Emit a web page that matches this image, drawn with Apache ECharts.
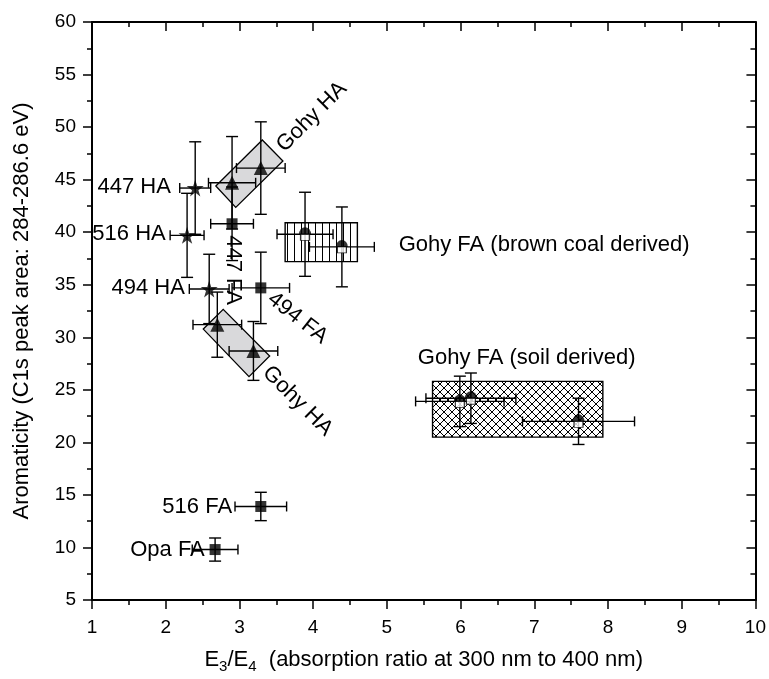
<!DOCTYPE html>
<html>
<head>
<meta charset="utf-8">
<title>Aromaticity vs E3/E4</title>
<script src="https://cdn.jsdelivr.net/npm/echarts@6/dist/echarts.min.js"></script>
<style>
html, body { margin: 0; padding: 0; background: #fff; }
#main { width: 769px; height: 679px; }
</style>
</head>
<body>
<div id="main"></div>
<script>
// axis ticks
var xTickValues = [1, 2, 3, 4, 5, 6, 7, 8, 9, 10];
var yTickValues = [5, 10, 15, 20, 25, 30, 35, 40, 45, 50, 55, 60];

// HA samples (stars): [E3/E4, aromaticity]
var haNames = ['447 HA', '516 HA', '494 HA'];
var haPoints = [[2.40, 44.2], [2.29, 39.7], [2.59, 34.6]];
var haErrX = [0.21, 0.23, 0.27];
var haErrY = [4.4, 4.0, 3.3];

// Gohy HA (triangles)
var gohyHaPoints = [[2.90, 44.7], [3.29, 46.1], [2.70, 31.2], [3.19, 28.7]];
var gohyHaErrX = [0.32, 0.33, 0.33, 0.33];
var gohyHaErrY = [4.4, 4.4, 3.1, 2.8];

// FA samples (squares)
var faNames = ['447 FA', '494 FA', '516 FA', 'Opa FA'];
var faPoints = [[2.90, 40.8], [3.29, 34.7], [3.29, 13.9], [2.67, 9.8]];
var faErrX = [0.29, 0.39, 0.35, 0.31];
var faErrY = [3.5, 3.4, 1.35, 1.1];

// Gohy FA, brown coal derived
var coalPoints = [[3.89, 39.8], [4.39, 38.6]];
var coalErrX = [0.38, 0.44];
var coalErrY = [4.0, 3.8];

// Gohy FA, soil derived
var soilPoints = [[5.99, 23.9], [6.14, 24.2], [7.60, 22.0]];
var soilErrX = [0.60, 0.61, 0.76];
var soilErrY = [2.4, 2.4, 2.2];

// group boxes: [xmin, ymin, xmax, ymax]
var coalBox = [3.62, 37.2, 4.60, 40.9];
var soilBox = [5.62, 20.5, 7.93, 25.8];
// tilted boxes round the Gohy HA pairs (corner points)
var gohyHaUpperBox = [[2.68, 44.39], [3.31, 48.77], [3.59, 46.77], [2.95, 42.36]];
var gohyHaLowerBox = [[2.51, 30.78], [2.78, 32.66], [3.41, 28.22], [3.13, 26.25]];

// annotations: [text, x, y, rotate(deg), align]
var noteLabels = [
	['447 HA', 2.07, 44.3, 0, 'right'],
	['516 HA', 2.00, 39.8, 0, 'right'],
	['494 HA', 2.26, 34.66, 0, 'right'],
	['516 FA', 2.90, 13.85, 0, 'right'],
	['Opa FA', 2.53, 9.76, 0, 'right'],
	['Gohy FA (brown coal derived)', 5.16, 38.78, 0, 'left'],
	['Gohy FA (soil derived)', 5.42, 28.0, 0, 'left'],
	['Gohy HA', 3.98, 50.96, 45, 'center'],
	['447 FA', 2.91, 36.4, -90, 'center'],
	['494 FA', 3.79, 31.83, -38, 'center'],
	['Gohy HA', 3.79, 23.93, -45, 'center']
];

var FONT = '"Liberation Sans", Arial, Helvetica, sans-serif';

function makeHatch(kind){
	var c = document.createElement('canvas');
	var s = kind == 'vertical' ? 7 : 8;
	c.width = s; c.height = s;
	var ctx = c.getContext('2d');
	ctx.fillStyle = '#fff';
	ctx.fillRect(0, 0, s, s);
	ctx.strokeStyle = '#000';
	ctx.lineWidth = 1;
	ctx.beginPath();
	if(kind == 'vertical'){
		ctx.moveTo(0.5, 0); ctx.lineTo(0.5, s);
	}else{
		ctx.moveTo(0, 0); ctx.lineTo(s, s);
		ctx.moveTo(s, 0); ctx.lineTo(0, s);
	}
	ctx.stroke();
	return c;
}

function withErr(points, ex, ey){
	var out = [];
	for(var i = 0; i < points.length; i++){
		out.push([points[i][0], points[i][1], ex[i], ey[i]]);
	}
	return out;
}

function renderErrorBar(params, api){
	var x = api.value(0), y = api.value(1), ex = api.value(2), ey = api.value(3);
	var c = api.coord([x, y]);
	var l = api.coord([x - ex, y])[0], r = api.coord([x + ex, y])[0];
	var t = api.coord([x, y + ey])[1], b = api.coord([x, y - ey])[1];
	var cap = 5;
	var st = {stroke: '#000', lineWidth: 1.4};
	return {
		type: 'group',
		children: [
			{type: 'line', shape: {x1: l, y1: c[1], x2: r, y2: c[1]}, style: st},
			{type: 'line', shape: {x1: l, y1: c[1] - cap, x2: l, y2: c[1] + cap}, style: st},
			{type: 'line', shape: {x1: r, y1: c[1] - cap, x2: r, y2: c[1] + cap}, style: st},
			{type: 'line', shape: {x1: c[0], y1: t, x2: c[0], y2: b}, style: st},
			{type: 'line', shape: {x1: c[0] - 6, y1: t, x2: c[0] + 6, y2: t}, style: st},
			{type: 'line', shape: {x1: c[0] - 6, y1: b, x2: c[0] + 6, y2: b}, style: st}
		]
	};
}

var hatchFill = {
	vertical: {image: makeHatch('vertical'), repeat: 'repeat'},
	cross: {image: makeHatch('cross'), repeat: 'repeat'}
};

function renderRectBox(params, api){
	var p0 = api.coord([api.value(0), api.value(3)]);
	var p1 = api.coord([api.value(2), api.value(1)]);
	var kind = params.dataIndex == 0 ? 'vertical' : 'cross';
	return {
		type: 'rect',
		shape: {x: p0[0], y: p0[1], width: p1[0] - p0[0], height: p1[1] - p0[1]},
		style: {fill: hatchFill[kind], stroke: '#000', lineWidth: 1.4}
	};
}

function renderTiltBox(params, api){
	var pts = [];
	for(var i = 0; i < 4; i++){
		pts.push(api.coord([api.value(i * 2), api.value(i * 2 + 1)]));
	}
	return {
		type: 'polygon',
		shape: {points: pts},
		style: {fill: '#d9d9db', stroke: '#000', lineWidth: 1.3}
	};
}

function renderNote(params, api){
	var n = noteLabels[params.dataIndex];
	var p = api.coord([api.value(0), api.value(1)]);
	return {
		type: 'text',
		x: p[0],
		y: p[1],
		rotation: n[3] * Math.PI / 180,
		style: {
			text: n[0],
			fill: '#000',
			font: '22px ' + FONT,
			align: n[4],
			textAlign: n[4],
			verticalAlign: 'middle',
			textVerticalAlign: 'middle'
		}
	};
}

function flatBox(box){
	var out = [];
	for(var i = 0; i < box.length; i++){ out.push(box[i][0], box[i][1]); }
	return out;
}

function initAromaticityOption(){
	var axisLine = {show: true, lineStyle: {color: '#000', width: 2}};
	var allErr = []
		.concat(withErr(haPoints, haErrX, haErrY))
		.concat(withErr(gohyHaPoints, gohyHaErrX, gohyHaErrY))
		.concat(withErr(faPoints, faErrX, faErrY))
		.concat(withErr(coalPoints, coalErrX, coalErrY))
		.concat(withErr(soilPoints, soilErrX, soilErrY));
	var notes = [];
	for(var i = 0; i < noteLabels.length; i++){ notes.push([noteLabels[i][1], noteLabels[i][2]]); }

	return {
		animation: false,
		backgroundColor: '#fff',
		textStyle: {fontFamily: FONT},
		grid: {left: 92, right: 13, top: 22, bottom: 79},
		xAxis: [{
			type: 'value',
			min: xTickValues[0],
			max: xTickValues[xTickValues.length - 1],
			interval: 1,
			name: '{n|E}{s|3}{n|/E}{s|4}{n|  (absorption ratio at 300 nm to 400 nm)}',
			nameLocation: 'middle',
			nameGap: 46,
			nameTextStyle: {
				rich: {
					n: {fontSize: 22, fontFamily: FONT, color: '#000'},
					s: {fontSize: 15, fontFamily: FONT, color: '#000', padding: [13, 0, 0, 0]}
				}
			},
			axisLine: axisLine,
			axisTick: {show: true, length: 9, lineStyle: {color: '#000', width: 1.5}},
			minorTick: {show: true, splitNumber: 2, length: 5, lineStyle: {color: '#000', width: 1.5}},
			axisLabel: {fontSize: 19, color: '#000', margin: 18, fontFamily: FONT},
			splitLine: {show: false}
		}, {
			type: 'value',
			position: 'top',
			min: xTickValues[0],
			max: xTickValues[xTickValues.length - 1],
			interval: 1,
			axisLine: axisLine,
			axisTick: {show: true, inside: true, length: 9, lineStyle: {color: '#000', width: 1.5}},
			minorTick: {show: true, splitNumber: 2, length: 5, lineStyle: {color: '#000', width: 1.5}},
			axisLabel: {show: false},
			splitLine: {show: false}
		}],
		yAxis: [{
			type: 'value',
			min: yTickValues[0],
			max: yTickValues[yTickValues.length - 1],
			interval: 5,
			name: 'Aromaticity (C1s peak area: 284-286.6 eV)',
			nameLocation: 'middle',
			nameGap: 59,
			nameTextStyle: {fontSize: 22, color: '#000', fontFamily: FONT},
			axisLine: axisLine,
			axisTick: {show: true, length: 9, lineStyle: {color: '#000', width: 1.5}},
			minorTick: {show: true, splitNumber: 2, length: 5, lineStyle: {color: '#000', width: 1.5}},
			axisLabel: {fontSize: 19, color: '#000', margin: 16, fontFamily: FONT},
			splitLine: {show: false}
		}, {
			type: 'value',
			position: 'right',
			min: yTickValues[0],
			max: yTickValues[yTickValues.length - 1],
			interval: 5,
			axisLine: axisLine,
			axisTick: {show: true, inside: true, length: 9, lineStyle: {color: '#000', width: 1.5}},
			minorTick: {show: true, splitNumber: 2, length: 5, lineStyle: {color: '#000', width: 1.5}},
			axisLabel: {show: false},
			splitLine: {show: false}
		}],
		series: [
			{
				name: 'tilted boxes',
				type: 'custom',
				z: 1,
				renderItem: renderTiltBox,
				encode: {x: 0, y: 1},
				data: [flatBox(gohyHaUpperBox), flatBox(gohyHaLowerBox)]
			},
			{
				name: 'hatched boxes',
				type: 'custom',
				z: 1,
				renderItem: renderRectBox,
				encode: {x: [0, 2], y: [1, 3]},
				data: [coalBox, soilBox]
			},
			{
				name: 'error bars',
				type: 'custom',
				z: 2,
				renderItem: renderErrorBar,
				encode: {x: 0, y: 1},
				data: allErr
			},
			{
				name: 'HA',
				type: 'scatter',
				z: 3,
				symbol: 'path://M50,0 L61,35 L98,35 L68,57 L79,91 L50,70 L21,91 L32,57 L2,35 L39,35 Z',
				symbolSize: 17,
				itemStyle: {color: '#000'},
				data: haPoints
			},
			{
				name: 'Gohy HA',
				type: 'scatter',
				z: 3,
				symbol: 'triangle',
				symbolSize: 14,
				itemStyle: {color: '#000'},
				data: gohyHaPoints
			},
			{
				name: 'FA',
				type: 'scatter',
				z: 3,
				symbol: 'rect',
				symbolSize: 11,
				itemStyle: {color: '#000'},
				data: faPoints
			},
			{
				name: 'Gohy FA base',
				type: 'scatter',
				z: 3,
				symbol: 'rect',
				symbolSize: [9, 6],
				symbolOffset: [0, 3],
				itemStyle: {color: '#fff', borderColor: '#000', borderWidth: 1},
				data: coalPoints.concat(soilPoints)
			},
			{
				name: 'Gohy FA top',
				type: 'scatter',
				z: 4,
				symbol: 'path://M0,10 A10,10 0 0 1 20,10 Z',
				symbolSize: [12, 7],
				symbolOffset: [0, -3.5],
				itemStyle: {color: '#000'},
				data: coalPoints.concat(soilPoints)
			},
			{
				name: 'notes',
				type: 'custom',
				z: 5,
				renderItem: renderNote,
				encode: {x: 0, y: 1},
				data: notes
			}
		]
	};
}

var aromaChart = echarts.init(document.getElementById('main'), null, {renderer: 'canvas'});
aromaChart.setOption(initAromaticityOption());
</script>
</body>
</html>
